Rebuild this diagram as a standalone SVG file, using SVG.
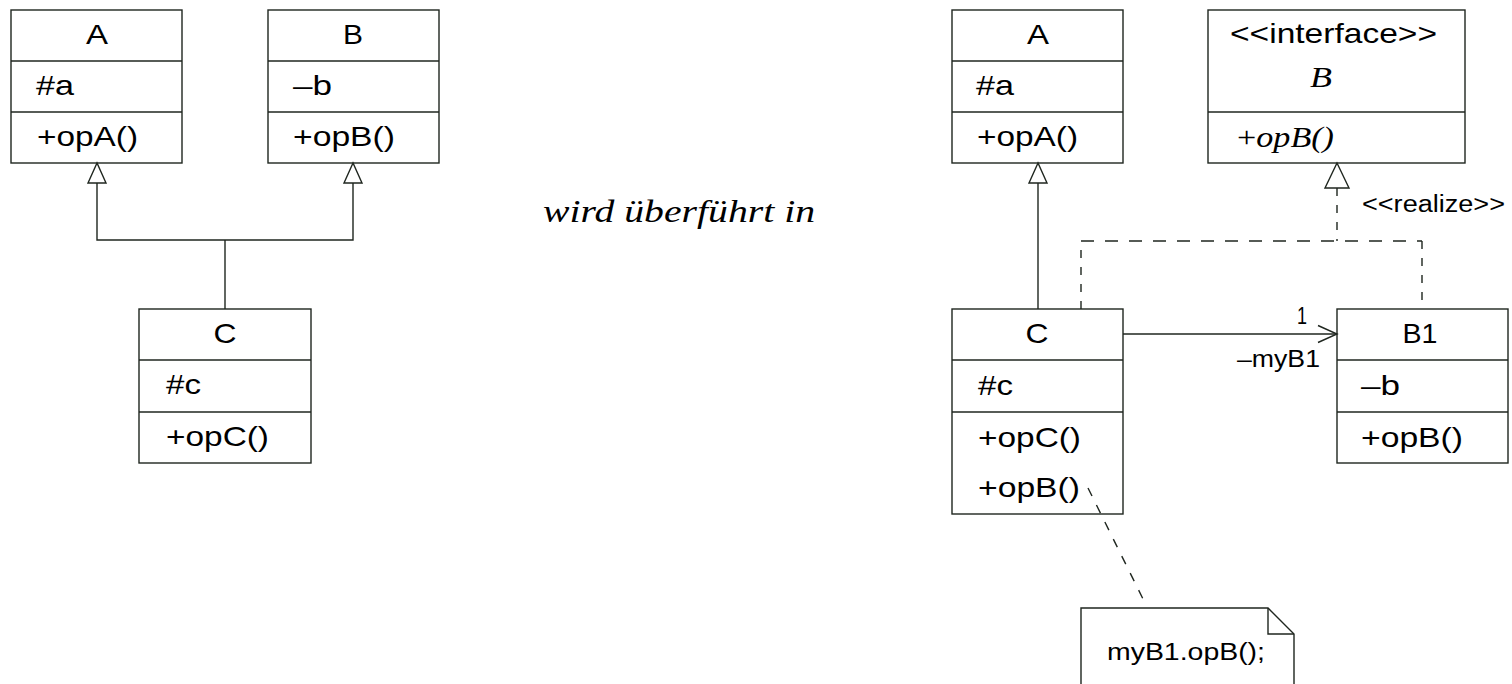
<svg xmlns="http://www.w3.org/2000/svg" width="1512" height="684" viewBox="0 0 1512 684">
  <style>
    .box { fill: #ffffff; stroke: #1f261f; stroke-width: 1.4; }
    .line { fill: none; stroke: #1f261f; stroke-width: 1.4; }
    .dash-h { fill: none; stroke: #1f261f; stroke-width: 1.4; stroke-dasharray: 13 11; }
    .dash-v { fill: none; stroke: #1f261f; stroke-width: 1.4; stroke-dasharray: 8 9; }
    .dash-d { fill: none; stroke: #1f261f; stroke-width: 1.4; stroke-dasharray: 9 10; }
    .head { fill: #ffffff; stroke: #1f261f; stroke-width: 1.4; stroke-linejoin: miter; }
    .open { fill: none; stroke: #1f261f; stroke-width: 1.4; }
    text { font-family: "Liberation Sans", Arial, sans-serif; font-size: 28.5px; fill: #000000; }
    .mid { text-anchor: middle; }
    .small { font-size: 23px; }
    .ser { font-family: "Liberation Serif", "Times New Roman", serif; }
    .it { font-style: italic; }
    .caption { font-size: 32px; }
  </style>

  <!-- ===== original model ===== -->
  <g id="left-A">
    <rect class="box" x="11" y="10" width="171" height="153"/>
    <line class="line" x1="11" y1="61" x2="182" y2="61"/>
    <line class="line" x1="11" y1="112" x2="182" y2="112"/>
    <text class="mid" x="97" y="44" textLength="22" lengthAdjust="spacingAndGlyphs">A</text>
    <text x="36" y="95" textLength="38" lengthAdjust="spacingAndGlyphs">#a</text>
    <text x="37" y="146" textLength="101" lengthAdjust="spacingAndGlyphs">+opA()</text>
  </g>

  <g id="left-B">
    <rect class="box" x="268" y="10" width="171" height="153"/>
    <line class="line" x1="268" y1="61" x2="439" y2="61"/>
    <line class="line" x1="268" y1="112" x2="439" y2="112"/>
    <text class="mid" x="353" y="44" textLength="20" lengthAdjust="spacingAndGlyphs">B</text>
    <text x="293" y="95" textLength="39" lengthAdjust="spacingAndGlyphs">–b</text>
    <text x="293" y="146" textLength="102" lengthAdjust="spacingAndGlyphs">+opB()</text>
  </g>

  <g id="left-C">
    <rect class="box" x="139" y="309" width="172" height="154"/>
    <line class="line" x1="139" y1="360" x2="311" y2="360"/>
    <line class="line" x1="139" y1="412" x2="311" y2="412"/>
    <text class="mid" x="225" y="343" textLength="23" lengthAdjust="spacingAndGlyphs">C</text>
    <text x="166" y="394" textLength="35" lengthAdjust="spacingAndGlyphs">#c</text>
    <text x="166" y="446" textLength="103" lengthAdjust="spacingAndGlyphs">+opC()</text>
  </g>

  <!-- transformation caption -->
  <g id="caption">
    <text class="ser it caption" x="543" y="222" textLength="272" lengthAdjust="spacingAndGlyphs">wird überführt in</text>
  </g>

  <!-- ===== transformed model ===== -->
  <g id="right-A">
    <rect class="box" x="952" y="10" width="171" height="153"/>
    <line class="line" x1="952" y1="61" x2="1123" y2="61"/>
    <line class="line" x1="952" y1="112" x2="1123" y2="112"/>
    <text class="mid" x="1038" y="44" textLength="22" lengthAdjust="spacingAndGlyphs">A</text>
    <text x="976" y="95" textLength="38" lengthAdjust="spacingAndGlyphs">#a</text>
    <text x="977" y="146" textLength="101" lengthAdjust="spacingAndGlyphs">+opA()</text>
  </g>

  <g id="interface-B">
    <rect class="box" x="1208" y="10" width="257" height="153"/>
    <line class="line" x1="1208" y1="112" x2="1465" y2="112"/>
    <text x="1230" y="43" textLength="207" lengthAdjust="spacingAndGlyphs">&lt;&lt;interface&gt;&gt;</text>
    <text class="ser it mid" x="1321" y="87" textLength="22" lengthAdjust="spacingAndGlyphs">B</text>
    <text class="ser" x="1237" y="147" textLength="97" lengthAdjust="spacingAndGlyphs">+<tspan class="it">opB()</tspan></text>
  </g>

  <g id="right-C">
    <rect class="box" x="952" y="309" width="171" height="205"/>
    <line class="line" x1="952" y1="360" x2="1123" y2="360"/>
    <line class="line" x1="952" y1="412" x2="1123" y2="412"/>
    <text class="mid" x="1037" y="343" textLength="23" lengthAdjust="spacingAndGlyphs">C</text>
    <text x="978" y="395" textLength="35" lengthAdjust="spacingAndGlyphs">#c</text>
    <text x="978" y="447" textLength="103" lengthAdjust="spacingAndGlyphs">+opC()</text>
    <text x="978" y="497" textLength="102" lengthAdjust="spacingAndGlyphs">+opB()</text>
  </g>

  <g id="B1">
    <rect class="box" x="1337" y="309" width="171" height="154"/>
    <line class="line" x1="1337" y1="360" x2="1508" y2="360"/>
    <line class="line" x1="1337" y1="412" x2="1508" y2="412"/>
    <text class="mid" x="1420" y="343" textLength="35" lengthAdjust="spacingAndGlyphs">B1</text>
    <text x="1361" y="395" textLength="39" lengthAdjust="spacingAndGlyphs">–b</text>
    <text x="1361" y="447" textLength="102" lengthAdjust="spacingAndGlyphs">+opB()</text>
  </g>

  <g id="note">
    <path class="box" d="M1081,690 V608 H1268 L1294,634 V690"/>
    <path class="line" d="M1268,608 V634 H1294"/>
    <text class="small" x="1107" y="660" textLength="158" lengthAdjust="spacingAndGlyphs">myB1.opB();</text>
  </g>

  <!-- ===== connectors ===== -->
  <g id="connectors">
    <!-- generalization C -> A, B (left) -->
    <path class="line" d="M97,183 V240 H353 V183"/>
    <path class="line" d="M225,240 V309"/>
    <polygon class="head" points="97,163 88,183 106,183"/>
    <polygon class="head" points="353,163 344,183 362,183"/>

    <!-- generalization C -> A (right) -->
    <path class="line" d="M1038,183 V309"/>
    <polygon class="head" points="1038,163 1029,183 1047,183"/>

    <!-- realization C, B1 -> interface B -->
    <path class="dash-v" d="M1081,309 V241"/>
    <path class="dash-h" d="M1081,241 H1422"/>
    <path class="dash-v" d="M1422,241 V309"/>
    <path class="dash-v" d="M1337,188 V241"/>
    <polygon class="head" points="1337,163 1325,188 1349,188"/>
    <text class="small" x="1362" y="212" textLength="143" lengthAdjust="spacingAndGlyphs">&lt;&lt;realize&gt;&gt;</text>

    <!-- navigable association C -> B1 -->
    <path class="line" d="M1123,334 H1337"/>
    <path class="open" d="M1318,325.5 L1337,334 L1318,342.5"/>
    <text class="small" x="1297" y="324" textLength="10" lengthAdjust="spacingAndGlyphs">1</text>
    <text class="small" x="1237" y="367" textLength="83" lengthAdjust="spacingAndGlyphs">–myB1</text>

    <!-- note anchor -->
    <path class="dash-d" d="M1088,488 L1147,607"/>
  </g>
</svg>
